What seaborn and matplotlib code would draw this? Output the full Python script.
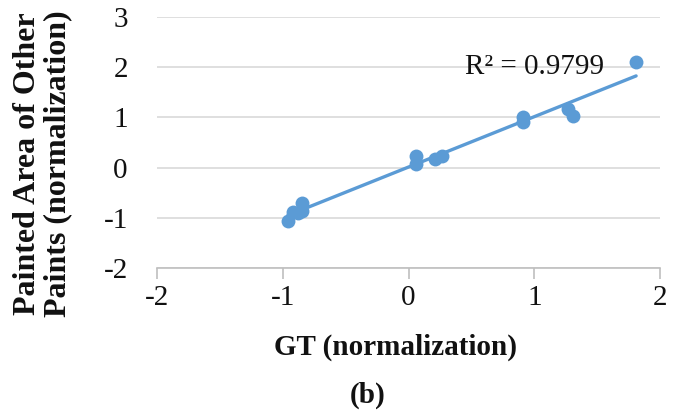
import matplotlib
matplotlib.use("Agg")
import matplotlib.pyplot as plt
import seaborn as sns
import pandas as pd

gt = [-0.96, -0.92, -0.88, -0.85, -0.85, 0.06, 0.06, 0.21, 0.27, 0.91, 0.91, 1.27, 1.31, 1.81]
painted = [-1.07, -0.88, -0.90, -0.70, -0.87, 0.24, 0.08, 0.18, 0.24, 1.00, 0.90, 1.17, 1.02, 2.10]
r2_text = "R² = 0.9799"
xticks = [-2, -1, 0, 1, 2]
yticks = [-2, -1, 0, 1, 2, 3]

sns.set_theme(style="white")
plt.rcParams['font.family'] = ['Liberation Serif', 'DejaVu Serif']
plt.rcParams['text.color'] = 'black'

df = pd.DataFrame({"gt": gt, "painted": painted})
color = "#5B9BD5"

fig = plt.figure(figsize=(6.84, 4.19), dpi=100)
ax = fig.add_axes([157/684, 1-268/419, 503/684, 251/419])

sns.regplot(data=df, x="gt", y="painted", ax=ax, ci=None, color=color,
            scatter_kws=dict(s=100, alpha=1, linewidths=0, zorder=3),
            line_kws=dict(lw=2.4, zorder=2))

ax.set_xlim(-2, 2)
ax.set_ylim(-2, 3)
ax.set_xticks(xticks)
ax.set_yticks(yticks)
ax.set_xticklabels([str(t) for t in xticks])
ax.set_yticklabels([str(t) for t in yticks])
ax.yaxis.grid(True, color="#D9D9D9", lw=1.2)
ax.xaxis.grid(False)
ax.set_axisbelow(True)
for s in ["top", "right", "left"]:
    ax.spines[s].set_visible(False)
ax.spines["bottom"].set_color("#BFBFBF")
ax.spines["bottom"].set_linewidth(1.2)
ax.tick_params(axis="x", which="major", length=8, width=1.2, color="#BFBFBF",
               direction="out", bottom=True, pad=4, labelsize=21, labelcolor="#111111")
ax.tick_params(axis="y", length=0, pad=21, labelsize=21, labelcolor="#111111")
ax.set_xlabel("")
ax.set_ylabel("")

ax.text(0.45, 2.0, r2_text, fontsize=21, color="#111111", va="center", ha="left")

fig.text(396/684, 1-347/419, "GT (normalization)", fontsize=21, fontweight="bold",
         ha="center", va="center", color="#111111")
fig.text(368/684, 1-395/419, "(b)", fontsize=21, fontweight="bold",
         ha="center", va="center", color="#111111")
fig.text(43/684, 1-164/419, "Painted Area of Other\nPaints (normalization)", fontsize=23,
         fontweight="bold", rotation=90, ha="center", va="center", linespacing=1.05,
         color="#111111")

fig.savefig("out.png", dpi=100)
